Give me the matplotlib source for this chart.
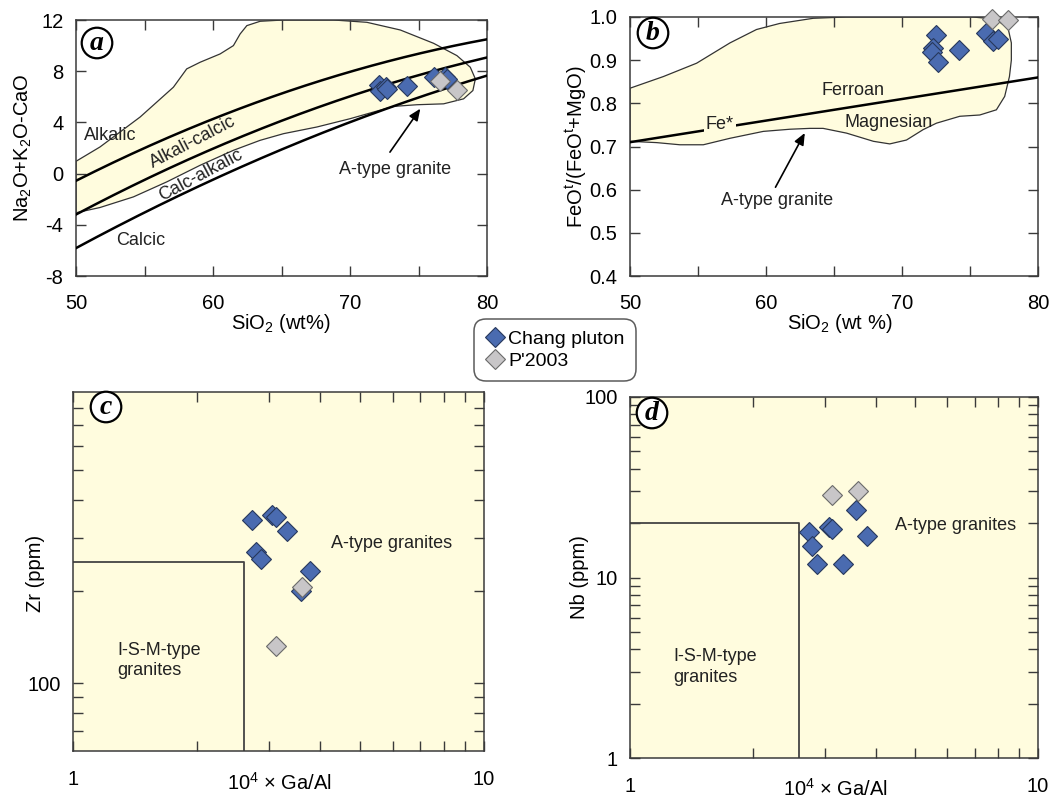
import matplotlib
matplotlib.use("Agg")
import matplotlib.pyplot as plt
from matplotlib.patches import Polygon
from matplotlib.lines import Line2D
import numpy as np

plt.rcParams['font.family'] = ['Liberation Sans', 'DejaVu Sans']
plt.rcParams['mathtext.fontset'] = 'custom'
plt.rcParams['mathtext.rm'] = 'Liberation Sans'
plt.rcParams['mathtext.it'] = 'Liberation Sans:italic'
plt.rcParams['mathtext.bf'] = 'Liberation Sans:bold'
plt.rcParams['axes.unicode_minus'] = False

# ---------------- data ----------------
# Panel a: MALI vs SiO2
a_chang_sio2 = [72.1, 72.2, 72.6, 72.7, 74.15, 76.1, 76.9, 77.1]
a_chang_mali = [6.96, 6.44, 6.8, 6.6, 6.88, 7.58, 7.58, 7.4]
a_p2003_sio2 = [76.6, 77.8]
a_p2003_mali = [7.27, 6.5]
# A-type granite field outline (SiO2, MALI)
a_field_x = [50.0, 51.75, 54.68, 57.11, 58.08, 59.06, 60.52, 61.49, 61.98, 62.47, 63.44, 65.15,
             68.8, 71.23, 73.67, 76.1, 77.8, 78.78, 79.15, 78.97, 78.29, 76.83, 74.88, 73.18,
             71.72, 70.01, 67.58, 65.15, 63.44, 61.49, 59.06, 56.62, 54.19, 51.75, 50.0]
a_field_y = [0.96, 2.08, 4.42, 6.75, 8.18, 8.70, 9.35, 10.0, 10.91, 11.56, 11.9, 12.0,
             12.0, 11.82, 11.22, 10.18, 9.22, 8.31, 7.4, 6.49, 5.84, 5.45, 5.38, 5.25,
             4.81, 4.29, 3.64, 3.12, 2.6, 1.82, 0.65, -0.65, -1.82, -2.65, -3.06]
# MALI boundary coefficients (c0, c1, c2) for c0 + c1*SiO2 + c2*SiO2^2
mali_bounds = [(-41.86, 1.112, -0.00572), (-44.72, 1.094, -0.00527), (-45.36, 1.0043, -0.00427)]

# Panel b: Fe* vs SiO2
b_chang_sio2 = [72.5, 72.3, 72.2, 72.65, 74.2, 76.2, 76.7, 77.06]
b_chang_fe = [0.959, 0.928, 0.920, 0.895, 0.923, 0.964, 0.944, 0.949]
b_p2003_sio2 = [76.6, 77.8]
b_p2003_fe = [0.995, 0.992]
b_field_x = [50.0, 52.45, 54.9, 57.35, 59.3, 61.0, 63.47, 65.9, 75.2, 76.9, 77.8, 78.04, 78.04,
             77.9, 77.55, 76.94, 75.72, 74.25, 72.53, 71.55, 70.33, 69.1, 67.9, 65.92, 64.2,
             63.23, 61.76, 59.8, 57.35, 55.39, 53.67, 51.96, 50.0]
b_field_y = [0.835, 0.862, 0.893, 0.940, 0.971, 0.985, 0.997, 1.0, 1.0, 0.995, 0.974, 0.94, 0.90,
             0.862, 0.816, 0.785, 0.773, 0.770, 0.754, 0.739, 0.715, 0.706, 0.712, 0.731, 0.742,
             0.742, 0.74, 0.735, 0.719, 0.704, 0.704, 0.709, 0.712]
fe_line_coef = (0.46, 0.005)

# Panel c: Zr vs 10^4 Ga/Al
c_chang_gaal = [2.73, 3.05, 3.11, 3.32, 2.78, 2.86, 3.78, 3.58]
c_chang_zr = [342, 357, 350, 315, 269, 256, 234, 200]
c_p2003_gaal = [3.61, 3.11]
c_p2003_zr = [206, 132]

# Panel d: Nb vs 10^4 Ga/Al
d_chang_gaal = [2.75, 2.79, 2.87, 3.07, 3.12, 3.33, 3.59, 3.80]
d_chang_nb = [17.9, 14.9, 11.9, 19.05, 18.6, 11.9, 23.8, 16.9]
d_p2003_gaal = [3.12, 3.62]
d_p2003_nb = [28.5, 30.0]

gaal_limit = 2.6
zr_limit = 250
nb_limit = 20

# ---------------- style ----------------
FIELD = '#FFFCDE'
BLUE = '#4A6BB0'
BLUE_E = '#27385C'
GRAY = '#C8C6C8'
GRAY_E = '#6A6A6A'
SPINE = '#3A3A3A'
FS = 13
TFS = 14.5
LFS = 14.5
MS = 10.2

W, H = 1057, 802
fig = plt.figure(figsize=(W / 100, H / 100), dpi=100)


def add_ax(l, t, r, b):
    return fig.add_axes([l / W, 1 - b / H, (r - l) / W, (b - t) / H])


axa = add_ax(76, 20, 487, 276)
axb = add_ax(630, 17, 1038, 276)
axc = add_ax(73, 392, 484, 751)
axd = add_ax(630, 397, 1038, 758)


def style(ax, pad_x=13, pad_y=9):
    for s in ax.spines.values():
        s.set_color(SPINE)
        s.set_linewidth(1.1)
    ax.tick_params(which='both', direction='in', top=True, right=True, color=SPINE,
                   labelsize=TFS, width=1.0)
    ax.tick_params(which='major', length=7)
    ax.tick_params(which='minor', length=7)
    ax.tick_params(axis='x', which='both', pad=pad_x)
    ax.tick_params(axis='y', which='both', pad=pad_y)


def panel_label(ax, letter, dx, dy, wpx, hpx):
    ax.text(dx / wpx, 1 - dy / hpx, letter, transform=ax.transAxes, ha='center', va='center',
            fontsize=20, fontweight='bold', fontstyle='italic', family='Liberation Serif',
            bbox=dict(boxstyle='circle,pad=0.1', facecolor='white', edgecolor='black', lw=1.6),
            zorder=10)


# ---------------- panel a ----------------
ax = axa
ax.set_xlim(50, 80)
ax.set_ylim(-8, 12)
ax.add_patch(Polygon(np.column_stack([a_field_x, a_field_y]), closed=True, facecolor=FIELD,
                     edgecolor='#333333', lw=0.9, zorder=1))
xs = np.linspace(50, 80, 200)
for c0, c1, c2 in mali_bounds:
    ax.plot(xs, c0 + c1 * xs + c2 * xs ** 2, color='black', lw=1.8, zorder=3)
ax.plot(a_chang_sio2, a_chang_mali, 'D', ms=MS, mfc=BLUE, mec=BLUE_E, mew=0.8, ls='none', zorder=5)
ax.plot(a_p2003_sio2, a_p2003_mali, 'D', ms=MS, mfc=GRAY, mec=GRAY_E, mew=0.8, ls='none', zorder=6)
ax.set_xticks([50, 60, 70, 80])
ax.set_xticks([55, 65, 75], minor=True)
ax.set_yticks([-8, -4, 0, 4, 8, 12])
style(ax)
ax.text(52.5, 3.0, 'Alkalic', fontsize=FS, ha='center', va='center', color='#222222')
ax.text(58.5, 2.47, 'Alkali-calcic', fontsize=FS, ha='center', va='center', rotation=27.5,
        rotation_mode='anchor', color='#222222')
ax.text(59.1, -0.13, 'Calc-alkalic', fontsize=FS, ha='center', va='center', rotation=28,
        rotation_mode='anchor', color='#222222')
ax.text(54.7, -5.2, 'Calcic', fontsize=FS, ha='center', va='center', color='#222222')
ax.annotate('', xy=(75.25, 5.25), xytext=(72.8, 1.5),
            arrowprops=dict(arrowstyle='-|>,head_length=0.7,head_width=0.3', color='black', lw=1.2))
ax.text(73.3, 0.3, 'A-type granite', fontsize=FS, ha='center', va='center', color='#222222')
ax.set_ylabel(r'Na$_2$O+K$_2$O-CaO', fontsize=LFS)
ax.yaxis.set_label_coords((34 - 76) / 411, 0.5)
ax.set_xlabel(r'SiO$_2$ (wt%)', fontsize=LFS)
ax.xaxis.set_label_coords((281 - 76) / 411, (276 - 312) / 256)
panel_label(ax, 'a', 21, 23, 411, 256)

# ---------------- panel b ----------------
ax = axb
ax.set_xlim(50, 80)
ax.set_ylim(0.4, 1.0)
ax.add_patch(Polygon(np.column_stack([b_field_x, b_field_y]), closed=True, facecolor=FIELD,
                     edgecolor='#333333', lw=0.9, zorder=1))
ax.plot(xs, fe_line_coef[0] + fe_line_coef[1] * xs, color='black', lw=1.8, zorder=3)
ax.plot(b_chang_sio2, b_chang_fe, 'D', ms=MS, mfc=BLUE, mec=BLUE_E, mew=0.8, ls='none', zorder=5)
ax.plot(b_p2003_sio2, b_p2003_fe, 'D', ms=MS, mfc=GRAY, mec=GRAY_E, mew=0.8, ls='none', zorder=6,
        clip_on=False)
ax.set_xticks([50, 60, 70, 80])
ax.set_xticks([55, 65, 75], minor=True)
ax.set_yticks([0.4, 0.5, 0.6, 0.7, 0.8, 0.9, 1.0])
ax.set_yticklabels(['0.4', '0.5', '0.6', '0.7', '0.8', '0.9', '1.0'])
style(ax)
ax.text(66.4, 0.83, 'Ferroan', fontsize=FS, ha='center', va='center', color='#222222')
ax.text(69.0, 0.756, 'Magnesian', fontsize=FS, ha='center', va='center', color='#222222')
ax.text(56.6, 0.75, 'Fe*', fontsize=FS, ha='center', va='center', color='#222222', zorder=4,
        bbox=dict(boxstyle='square,pad=0.1', facecolor=FIELD, edgecolor='none'))
ax.annotate('', xy=(62.95, 0.737), xytext=(60.6, 0.60),
            arrowprops=dict(arrowstyle='-|>,head_length=0.7,head_width=0.3', color='black', lw=1.2))
ax.text(60.8, 0.576, 'A-type granite', fontsize=FS, ha='center', va='center', color='#222222')
ax.set_ylabel(r'FeO$^\mathrm{t}$/(FeO$^\mathrm{t}$+MgO)', fontsize=LFS)
ax.yaxis.set_label_coords((589 - 630) / 408, 0.5)
ax.set_xlabel(r'SiO$_2$ (wt %)', fontsize=LFS)
ax.xaxis.set_label_coords((840 - 630) / 408, (276 - 312) / 259)
panel_label(ax, 'b', 23, 16, 408, 259)

# ---------------- panel c ----------------
ax = axc
ax.set_facecolor(FIELD)
ax.set_xscale('log')
ax.set_yscale('log')
ax.set_xlim(1, 10)
ax.set_ylim(60, 900)
ax.plot([1, gaal_limit, gaal_limit], [zr_limit, zr_limit, 60], color='#444444', lw=1.3, zorder=2)
ax.plot(c_chang_gaal, c_chang_zr, 'D', ms=MS, mfc=BLUE, mec=BLUE_E, mew=0.8, ls='none', zorder=5)
ax.plot(c_p2003_gaal, c_p2003_zr, 'D', ms=MS, mfc=GRAY, mec=GRAY_E, mew=0.8, ls='none', zorder=6)
style(ax, pad_x=14)
ax.set_xticks([1, 10])
ax.set_xticklabels(['1', '10'])
ax.set_xticks([2, 3, 4, 5, 6, 7, 8, 9], minor=True)
ax.set_xticklabels([], minor=True)
ax.set_yticks([100])
ax.set_yticklabels(['100'])
ax.set_yticks([70, 80, 90, 200, 300, 400, 500, 600, 700, 800], minor=True)
ax.set_yticklabels([], minor=True)
ax.text(5.95, 288, 'A-type granites', fontsize=FS, ha='center', va='center', color='#222222')
ax.text(1.28, 119, 'I-S-M-type\ngranites', fontsize=FS, ha='left', va='center', color='#222222',
        linespacing=1.25)
ax.set_ylabel('Zr (ppm)', fontsize=LFS)
ax.yaxis.set_label_coords((45 - 73) / 411, (751 - 573) / 359)
ax.set_xlabel(r'10$^4$ $\times$ Ga/Al', fontsize=LFS)
ax.xaxis.set_label_coords((279 - 73) / 411, (751 - 772) / 359)
panel_label(ax, 'c', 33, 15, 411, 359)

# ---------------- panel d ----------------
ax = axd
ax.set_facecolor(FIELD)
ax.set_xscale('log')
ax.set_yscale('log')
ax.set_xlim(1, 10)
ax.set_ylim(1, 100)
ax.plot([1, gaal_limit, gaal_limit], [nb_limit, nb_limit, 1], color='#444444', lw=1.3, zorder=2)
ax.plot(d_chang_gaal, d_chang_nb, 'D', ms=MS, mfc=BLUE, mec=BLUE_E, mew=0.8, ls='none', zorder=5)
ax.plot(d_p2003_gaal, d_p2003_nb, 'D', ms=MS, mfc=GRAY, mec=GRAY_E, mew=0.8, ls='none', zorder=6)
style(ax, pad_x=14)
ax.set_xticks([1, 10])
ax.set_xticklabels(['1', '10'])
ax.set_xticks([2, 3, 4, 5, 6, 7, 8, 9], minor=True)
ax.set_xticklabels([], minor=True)
ax.set_yticks([1, 10, 100])
ax.set_yticklabels(['1', '10', '100'])
ax.set_yticks([2, 3, 4, 5, 6, 7, 8, 9, 20, 30, 40, 50, 60, 70, 80, 90], minor=True)
ax.set_yticklabels([], minor=True)
ax.text(6.29, 19.4, 'A-type granites', fontsize=FS, ha='center', va='center', color='#222222')
ax.text(1.28, 3.19, 'I-S-M-type\ngranites', fontsize=FS, ha='left', va='center', color='#222222',
        linespacing=1.25)
ax.set_ylabel('Nb (ppm)', fontsize=LFS)
ax.yaxis.set_label_coords((589 - 630) / 408, (758 - 577) / 361)
ax.set_xlabel(r'10$^4$ $\times$ Ga/Al', fontsize=LFS)
ax.xaxis.set_label_coords((835 - 630) / 408, (758 - 778) / 361)
panel_label(ax, 'd', 22, 16, 408, 361)

# ---------------- legend ----------------
handles = [Line2D([], [], marker='D', ls='none', ms=MS, mfc=BLUE, mec=BLUE_E, mew=0.8),
           Line2D([], [], marker='D', ls='none', ms=MS, mfc=GRAY, mec=GRAY_E, mew=0.8)]
leg = fig.legend(handles, ['Chang pluton', "P'2003"], loc='center', bbox_to_anchor=(555 / W, 1 - 350 / H),
                 fontsize=14, frameon=True, fancybox=True, edgecolor='#333333',
                 handletextpad=0.2, handlelength=1.0, borderpad=0.35, labelspacing=0.25,
                 borderaxespad=0)
leg.get_frame().set_linewidth(1.1)
leg.get_frame().set_boxstyle('round,pad=0.2,rounding_size=0.6')

fig.savefig('out.png', dpi=100)
